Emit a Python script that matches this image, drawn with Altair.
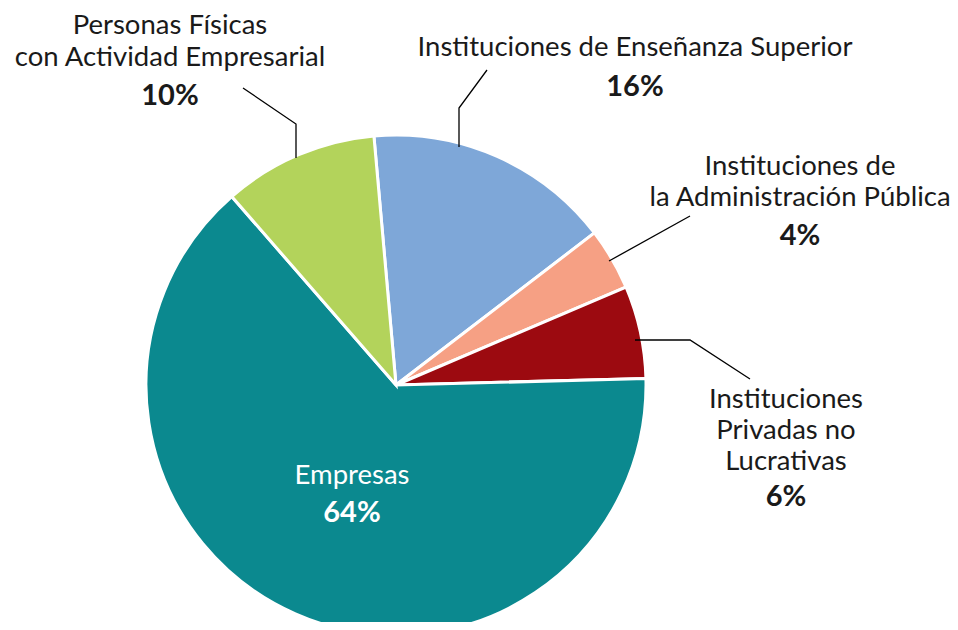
import math
import altair as alt
import pandas as pd

# ---- data ----
categories = [
    "Instituciones de Enseñanza Superior",
    "Instituciones de la Administración Pública",
    "Instituciones Privadas no Lucrativas",
    "Empresas",
    "Personas Físicas con Actividad Empresarial",
]
values = [16, 4, 6, 64, 10]
colors = ["#7EA7D8", "#F6A084", "#9C0A10", "#0B898F", "#B3D35B"]

# label lines for each category (name lines, percent)
label_lines = [
    ["Instituciones de Enseñanza Superior"],
    ["Instituciones de", "la Administración Pública"],
    ["Instituciones", "Privadas no", "Lucrativas"],
    ["Empresas"],
    ["Personas Físicas", "con Actividad Empresarial"],
]
pct_labels = ["16%", "4%", "6%", "64%", "10%"]

# ---- layout (chart pixel coords) ----
W, H = 942, 614
CX, CY, R = 388, 377, 250
START = -0.0885  # radians, start angle of first slice
# label anchor: x center, y of first line, line spacing, gap to percent
label_layout = [
    (627, 40, 32, 39),
    (792, 159, 31, 38),
    (778, 392, 31, 35),
    (344, 468, 32, 37),
    (162, 18, 32, 38),
]
leader_layout = [
    [(451, 139), (451, 100), (479, 62)],
    [(601, 253), (682, 208)],
    [(627, 332), (682, 332), (742, 371)],
    [],
    [(288, 150), (288, 116), (235, 80)],
]
text_colors = ["#1a1a1a", "#1a1a1a", "#1a1a1a", "#ffffff", "#1a1a1a"]

df = pd.DataFrame({"cat": categories, "value": values, "ord": list(range(len(values)))})

rows = []
for i, lines in enumerate(label_lines):
    x, y0, dy, gap = label_layout[i]
    for j, t in enumerate(lines):
        rows.append({"x": x, "y": y0 + j * dy, "t": t, "bold": False, "c": text_colors[i]})
    rows.append({"x": x, "y": y0 + (len(lines) - 1) * dy + gap, "t": pct_labels[i], "bold": True, "c": text_colors[i]})
tdf = pd.DataFrame(rows)

lrows = []
for i, pts in enumerate(leader_layout):
    for k, (x, y) in enumerate(pts):
        lrows.append({"seg": i, "k": k, "x": x, "y": y})
ldf = pd.DataFrame(lrows)

FONT = "Lato"

pie = alt.Chart(df).mark_arc(stroke="white", strokeWidth=3).encode(
    theta=alt.Theta("value:Q", stack=True,
                    scale=alt.Scale(range=[2 * math.pi + START, 4 * math.pi + START])),
    order=alt.Order("ord:Q"),
    color=alt.Color("cat:N", scale=alt.Scale(domain=categories, range=colors), legend=None),
    x=alt.value(CX), y=alt.value(CY), radius=alt.value(R),
)

leaders = alt.Chart(ldf).mark_line(color="black", strokeWidth=1.3).encode(
    x=alt.X("x:Q", scale=None), y=alt.Y("y:Q", scale=None),
    detail="seg:N", order="k:Q",
)

normal = alt.Chart(tdf).transform_filter("!datum.bold").mark_text(
    font=FONT, fontSize=27.5, baseline="middle", align="center"
).encode(x=alt.X("x:Q", scale=None), y=alt.Y("y:Q", scale=None), text="t:N",
         color=alt.Color("c:N", scale=None))

bold = alt.Chart(tdf).transform_filter("datum.bold").mark_text(
    font=FONT, fontSize=29, fontWeight="bold", baseline="middle", align="center"
).encode(x=alt.X("x:Q", scale=None), y=alt.Y("y:Q", scale=None), text="t:N",
         color=alt.Color("c:N", scale=None))

chart = alt.layer(pie, leaders, normal, bold).properties(
    width=W, height=H, padding=0,
    autosize=alt.AutoSizeParams(type="fit", contains="padding"),
).configure_view(stroke=None)

chart.save("out.html", embed_options={"renderer": "svg", "actions": False})
